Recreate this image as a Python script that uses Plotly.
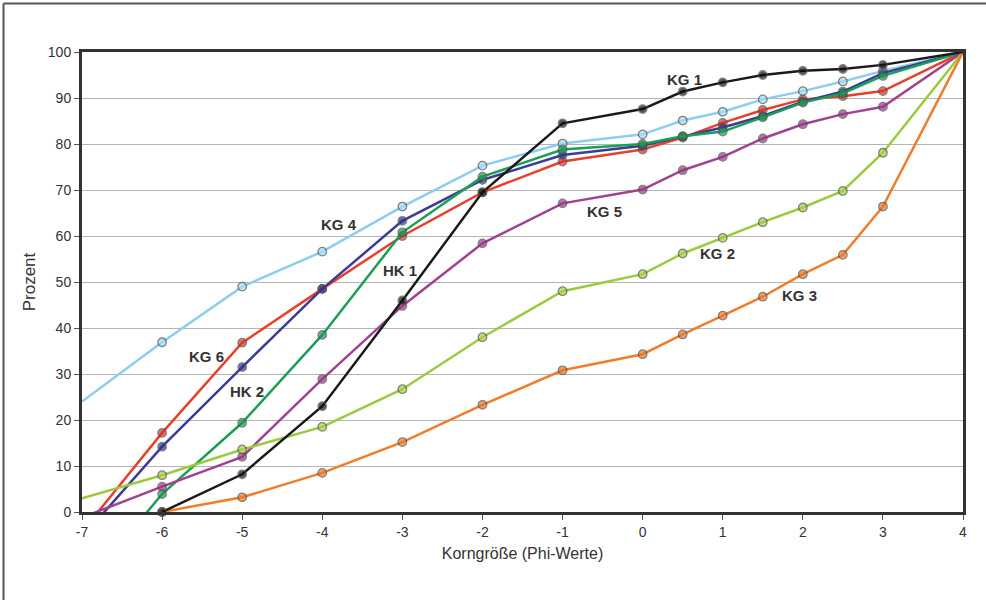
import plotly.graph_objects as go

# ---- data ----
x_phi = [-6, -5, -4, -3, -2, -1, 0, 0.5, 1, 1.5, 2, 2.5, 3, 4]

kg1 = [0, 8.2, 23, 46, 69.5, 84.5, 87.6, 91.4, 93.4, 95.0, 95.9, 96.3, 97.2, 100]
kg2 = [8, 13.6, 18.5, 26.7, 38.0, 48.0, 51.7, 56.2, 59.6, 63.0, 66.2, 69.8, 78.1, 100]
kg3 = [0, 3.2, 8.5, 15.2, 23.3, 30.8, 34.3, 38.6, 42.7, 46.8, 51.7, 55.9, 66.4, 100]
kg4 = [36.9, 49.0, 56.6, 66.4, 75.3, 80.1, 82.1, 85.1, 87.0, 89.7, 91.5, 93.6, 95.9, 100]
kg5 = [5.5, 12.0, 28.9, 44.8, 58.4, 67.1, 70.1, 74.3, 77.2, 81.2, 84.3, 86.5, 88.1, 100]
kg6 = [17.2, 36.8, 48.5, 60.0, 69.5, 76.2, 78.8, 81.4, 84.6, 87.4, 89.7, 90.4, 91.5, 100]
hk1 = [3.9, 19.4, 38.5, 60.8, 72.9, 78.8, 80.0, 81.7, 82.7, 85.8, 89.0, 91.0, 94.8, 100]
hk2 = [14.2, 31.5, 48.5, 63.3, 72.2, 77.6, 79.6, 81.6, 83.6, 86.1, 89.2, 91.4, 95.4, 100]

# start points of the extrapolated line segments (x = -7), None = no segment
start_x = -7
start_vals = {"KG 1": None, "KG 2": 3, "KG 3": None, "KG 4": 24,
              "KG 5": -1.2, "KG 6": -4.3, "HK 1": -17, "HK 2": -5.5}

series_names = ["KG 4", "KG 6", "HK 2", "HK 1", "KG 5", "KG 2", "KG 3", "KG 1"]
series_vals = [kg4, kg6, hk2, hk1, kg5, kg2, kg3, kg1]
line_colors = ["#8ccdf0", "#e8412b", "#3a3c96", "#1b9e55", "#a2418f", "#9acb3c", "#f07d2a", "#1a1a1a"]
marker_colors = ["#a8dcf5", "#d8362a", "#2e3088", "#1a9a50", "#9a3a88", "#a8d048", "#e87828", "#111111"]

label_text = ["KG 1", "KG 4", "HK 1", "KG 5", "KG 2", "KG 3", "KG 6", "HK 2"]
label_x = [0.52, -3.79, -3.03, -0.48, 0.94, 1.96, -5.44, -4.94]
label_y = [94.1, 62.6, 52.6, 65.4, 56.1, 47.0, 33.9, 26.3]

x_ticks = list(range(-7, 5))
y_ticks = list(range(0, 101, 10))

fig = go.Figure()

for name, vals, lc, mc in zip(series_names, series_vals, line_colors, marker_colors):
    xs = list(x_phi)
    ys = list(vals)
    sizes = [8.5] * len(xs)
    sizes[-1] = 0
    sv = start_vals[name]
    if sv is not None:
        xs = [start_x] + xs
        ys = [sv] + ys
        sizes = [0] + sizes
    fig.add_trace(go.Scatter(
        x=xs, y=ys, mode="lines+markers", name=name,
        line=dict(color=lc, width=2.5),
        marker=dict(color=mc, size=sizes, line=dict(color="#505050", width=1.3)),
        cliponaxis=False, showlegend=False, hoverinfo="skip",
    ))

for t, lx, ly in zip(label_text, label_x, label_y):
    fig.add_annotation(x=lx, y=ly, text="<b>%s</b>" % t, showarrow=False,
                       font=dict(family="Liberation Sans, Arial, sans-serif", size=15, color="#333333"))

# outer frame of the figure (only left and top edges are visible in the picture)
L, R, T, B = 82, 963, 52, 512
def px_to_paper_x(px):
    return (px - L) / (R - L)
def px_to_paper_y(py):
    return (B - py) / (B - T)

frame_style = dict(color="#555555", width=2)
fig.add_shape(type="line", xref="paper", yref="paper",
              x0=px_to_paper_x(3.5), x1=px_to_paper_x(3.5),
              y0=px_to_paper_y(600), y1=px_to_paper_y(3.5), line=frame_style, layer="below")
fig.add_shape(type="line", xref="paper", yref="paper",
              x0=px_to_paper_x(3.5), x1=px_to_paper_x(986),
              y0=px_to_paper_y(3.5), y1=px_to_paper_y(3.5), line=frame_style, layer="below")

fig.update_layout(
    width=986, height=600,
    margin=dict(l=L, r=986 - R, t=T, b=600 - B),
    paper_bgcolor="white", plot_bgcolor="white",
    font=dict(family="Liberation Sans Narrow, Arial Narrow, Liberation Sans, sans-serif", color="#333333"),
)
fig.update_xaxes(
    range=[-7, 4], tickvals=x_ticks, ticktext=[str(v) for v in x_ticks],
    showgrid=False, zeroline=False,
    showline=True, linecolor="#333333", linewidth=3, mirror=True,
    ticks="outside", ticklen=5, tickcolor="#555555", tickwidth=1,
    tickfont=dict(size=14, color="#333333"),
    title=dict(text="Korngröße (Phi-Werte)", standoff=10,
               font=dict(size=16, family="Liberation Sans Narrow, Arial Narrow, Liberation Sans, sans-serif", color="#333333")),
)
fig.update_yaxes(
    range=[0, 100], tickvals=y_ticks, ticktext=[str(v) for v in y_ticks],
    showgrid=True, gridcolor="#b4b4b4", gridwidth=1, zeroline=False,
    showline=True, linecolor="#333333", linewidth=3, mirror=True,
    ticks="outside", ticklen=5, tickcolor="#555555", tickwidth=1,
    tickfont=dict(size=14, color="#333333"),
    title=dict(text="Prozent", standoff=8,
               font=dict(size=17, family="Liberation Sans, Arial, sans-serif", color="#333333")),
)

fig.write_html("out.html", config={"displayModeBar": False},
               post_script="document.body.style.margin='0';document.body.style.overflow='hidden';")
